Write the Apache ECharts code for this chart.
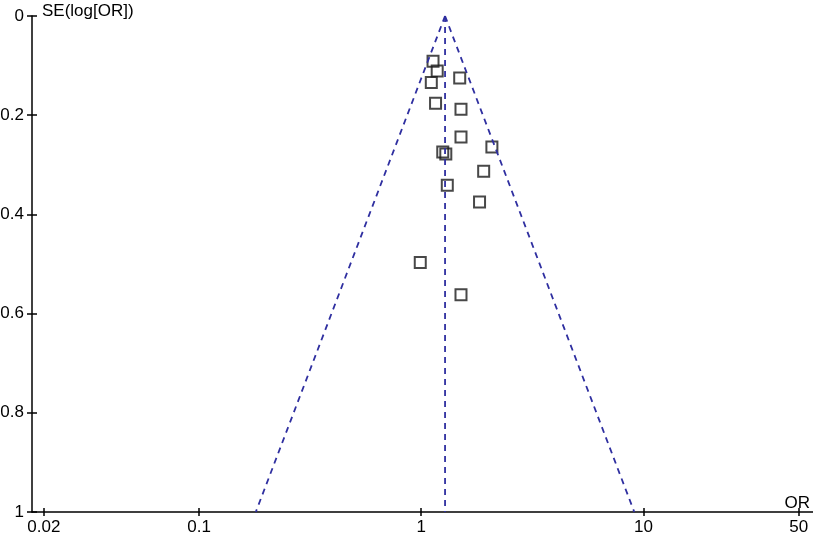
<!DOCTYPE html>
<html>
<head>
<meta charset="utf-8">
<style>
  html, body { margin: 0; padding: 0; background: #fff; }
  #chart { width: 813px; height: 537px; }
</style>
<script src="https://cdn.jsdelivr.net/npm/echarts@6/dist/echarts.min.js"></script>
</head>
<body>
<div id="chart"></div>
<script>
// study estimates
const orValues = [1.13, 1.18, 1.11, 1.49, 1.16, 1.51, 1.51, 2.08, 1.25, 1.29, 1.91, 1.31, 1.83, 0.99, 1.51]
const seValues = [0.091, 0.111, 0.134, 0.125, 0.176, 0.188, 0.244, 0.264, 0.274, 0.278, 0.313, 0.341, 0.375, 0.497, 0.562]

// pooled OR and the 95% limits at SE = 1
const pooledOR = 1.28
const funnelLimits = [0.18, 9.1]

const orTicks = [0.02, 0.1, 1, 10, 50]
const orRange = [0.0177, 58]

const font = 'Arial, "Liberation Sans", sans-serif'
const blue = '#2f2fa0'
const lg = v => Math.log10(v)

const xTickVals = orTicks.map(lg)
const fmtOR = v => String(+Math.pow(10, v).toPrecision(2))

const chart = echarts.init(document.getElementById('chart'))

const baseX = {
  type: 'value',
  position: 'bottom',
  offset: 0,
  min: lg(orRange[0]),
  max: lg(orRange[1]),
  splitLine: { show: false }
}
const baseY = {
  type: 'value',
  position: 'left',
  offset: 0,
  inverse: true,
  min: 0,
  max: 1,
  interval: 0.2,
  splitLine: { show: false }
}

chart.setOption({
  animation: false,
  grid: { left: 32, right: 0, top: 16, bottom: 25, outerBoundsMode: 'none', containLabel: false },
  xAxis: [
    Object.assign({}, baseX, {
      name: 'OR',
      nameLocation: 'end',
      nameGap: -3,
      nameTextStyle: { fontFamily: font, fontSize: 17, color: '#000', align: 'right', verticalAlign: 'bottom' },
      axisLine: { onZero: false, lineStyle: { color: '#000', width: 1.5 } },
      axisTick: { customValues: xTickVals, length: 4, lineStyle: { color: '#000', width: 1.5 } },
      axisLabel: {
        customValues: xTickVals,
        fontFamily: font, fontSize: 17, color: '#000', margin: 7,
        formatter: fmtOR
      }
    }),
    // second axis only for the inner half of the crossing ticks
    Object.assign({}, baseX, {
      axisLine: { show: false, onZero: false },
      axisTick: { customValues: xTickVals, inside: true, length: 4, lineStyle: { color: '#000', width: 1.5 } },
      axisLabel: { show: false }
    })
  ],
  yAxis: [
    Object.assign({}, baseY, {
      name: 'SE(log[OR])',
      nameLocation: 'start',
      nameGap: 5,
      nameTextStyle: { fontFamily: font, fontSize: 17, color: '#000', align: 'left', verticalAlign: 'middle', padding: [0, 0, 0, 10] },
      axisLine: { onZero: false, lineStyle: { color: '#000', width: 1.5 } },
      axisTick: { length: 5, lineStyle: { color: '#000', width: 1.5 } },
      axisLabel: { fontFamily: font, fontSize: 17, color: '#000', margin: 8 }
    }),
    Object.assign({}, baseY, {
      axisLine: { show: false, onZero: false },
      axisTick: { inside: true, length: 5, lineStyle: { color: '#000', width: 1.5 } },
      axisLabel: { show: false }
    })
  ],
  series: [
    {
      type: 'line',
      symbol: 'none',
      silent: true,
      lineStyle: { color: blue, width: 1.8, type: [6, 5] },
      data: [[lg(pooledOR), 0], [lg(funnelLimits[0]), 1]]
    },
    {
      type: 'line',
      symbol: 'none',
      silent: true,
      lineStyle: { color: blue, width: 1.8, type: [6, 5] },
      data: [[lg(pooledOR), 0], [lg(funnelLimits[1]), 1]]
    },
    {
      type: 'line',
      symbol: 'none',
      silent: true,
      lineStyle: { color: blue, width: 1.8, type: [6, 5] },
      data: [[lg(pooledOR), 0], [lg(pooledOR), 1]]
    },
    {
      type: 'scatter',
      symbol: 'rect',
      symbolSize: 11,
      itemStyle: { color: 'rgba(0,0,0,0)', borderColor: '#1a1a1a', borderWidth: 2 },
      data: orValues.map((v, i) => [lg(v), seValues[i]])
    }
  ]
})
</script>
</body>
</html>
